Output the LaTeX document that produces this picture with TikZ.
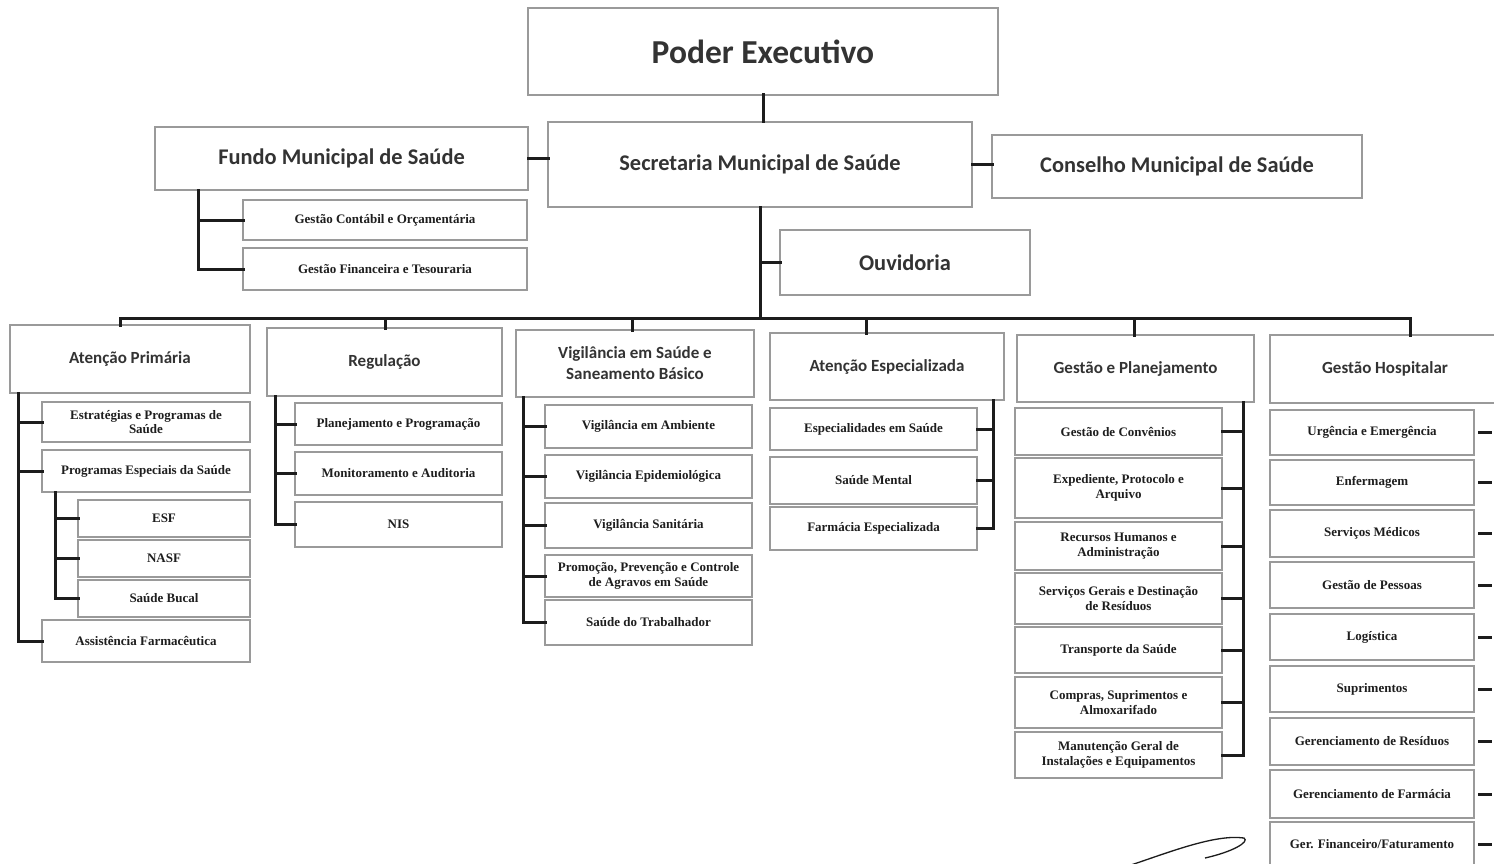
\documentclass[tikz,border=0pt]{standalone}
\usepackage{fontspec}
\newfontfamily\hdf{Carlito}
\newfontfamily\itf{Liberation Serif}
\definecolor{bord}{HTML}{9A9A9A}
\definecolor{hdtxt}{HTML}{333333}
\definecolor{ittxt}{HTML}{1E1E1E}
\definecolor{lin}{HTML}{1C1C1C}
\tikzset{
  box/.style={draw=bord, line width=1.6pt, fill=white, inner sep=0pt, outer sep=0pt, align=center},
  top/.style={box, font=\hdf\bfseries\fontsize{33.5}{38}\selectfont, text=hdtxt},
  lvone/.style={box, font=\hdf\bfseries\fontsize{22.4}{26}\selectfont, text=hdtxt},
  lvtwo/.style={box, font=\hdf\bfseries\fontsize{17}{21}\selectfont, text=hdtxt},
  itm/.style={box, font=\itf\bfseries\fontsize{13}{14.5}\selectfont, text=ittxt},
  conn/.style={draw=lin, line width=3pt, line cap=rect}
}
\newcommand\mybox[7]{%
  \pgfmathsetmacro\bw{#5-#3}\pgfmathsetmacro\bh{#6-#4}%
  \pgfmathsetmacro\cx{(#3+#5)/2}\pgfmathsetmacro\cy{(#4+#6)/2}%
  \node[#1, minimum width=\bw pt, minimum height=\bh pt] (#2) at (\cx,\cy) {#7};}
\begin{document}
\begin{tikzpicture}[x=1pt,y=-1pt]
\useasboundingbox[fill=white] (0,0) rectangle (1494,864);
% top levels
\mybox{top}{pe}{528}{8}{998}{95}{Poder Executivo}
\mybox{lvone}{fundo}{155}{127}{528}{190}{Fundo Municipal de Saúde}
\mybox{lvone}{sec}{548}{122}{972}{207}{Secretaria Municipal de Saúde}
\mybox{lvone}{cons}{992}{135}{1362}{198}{Conselho Municipal de Saúde}
\mybox{itm}{gcont}{243}{200}{527}{240}{Gestão Contábil e Orçamentária}
\mybox{itm}{gfin}{243}{248}{527}{290}{Gestão Financeira e Tesouraria}
\mybox{lvone}{ouv}{780}{230}{1030}{295}{Ouvidoria}
% level 2 heads
\mybox{lvtwo}{ap}{10}{325}{250}{393}{Atenção Primária}
\mybox{lvtwo}{reg}{267}{328}{502}{396}{Regulação}
\mybox{lvtwo}{vig}{516}{330}{754}{397}{Vigilância em Saúde e\\Saneamento Básico}
\mybox{lvtwo}{ae}{770}{333}{1004}{400}{Atenção Especializada}
\mybox{lvtwo}{gp}{1017}{335}{1254}{402}{Gestão e Planejamento}
\mybox{lvtwo}{gh}{1270}{335}{1500}{403}{Gestão Hospitalar}
% Atenção Primária items
\mybox{itm}{ap1}{42}{402}{250}{442}{Estratégias e Programas de\\Saúde}
\mybox{itm}{ap2}{42}{450}{250}{492}{Programas Especiais da Saúde}
\mybox{itm}{ap3}{78}{500}{250}{537}{ESF}
\mybox{itm}{ap4}{78}{540}{250}{577}{NASF}
\mybox{itm}{ap5}{78}{580}{250}{617}{Saúde Bucal}
\mybox{itm}{ap6}{42}{620}{250}{662}{Assistência Farmacêutica}
% Regulação items
\mybox{itm}{rg1}{295}{403}{502}{445}{Planejamento e Programação}
\mybox{itm}{rg2}{295}{452}{502}{495}{Monitoramento e Auditoria}
\mybox{itm}{rg3}{295}{502}{502}{547}{NIS}
% Vigilância items
\mybox{itm}{vg1}{545}{405}{752}{448}{Vigilância em Ambiente}
\mybox{itm}{vg2}{545}{455}{752}{498}{Vigilância Epidemiológica}
\mybox{itm}{vg3}{545}{503}{752}{548}{Vigilância Sanitária}
\mybox{itm}{vg4}{545}{555}{752}{597}{Promoção, Prevenção e Controle\\de Agravos em Saúde}
\mybox{itm}{vg5}{545}{600}{752}{645}{Saúde do Trabalhador}
% Atenção Especializada items
\mybox{itm}{ae1}{770}{408}{977}{450}{Especialidades em Saúde}
\mybox{itm}{ae2}{770}{457}{977}{504}{Saúde Mental}
\mybox{itm}{ae3}{770}{507}{977}{550}{Farmácia Especializada}
% Gestão e Planejamento items
\mybox{itm}{gp1}{1015}{408}{1222}{455}{Gestão de Convênios}
\mybox{itm}{gp2}{1015}{458}{1222}{518}{Expediente, Protocolo e\\Arquivo}
\mybox{itm}{gp3}{1015}{522}{1222}{570}{Recursos Humanos e\\Administração}
\mybox{itm}{gp4}{1015}{573}{1222}{624}{Serviços Gerais e Destinação\\de Resíduos}
\mybox{itm}{gp5}{1015}{627}{1222}{673}{Transporte da Saúde}
\mybox{itm}{gp6}{1015}{677}{1222}{728}{Compras, Suprimentos e\\Almoxarifado}
\mybox{itm}{gp7}{1015}{732}{1222}{778}{Manutenção Geral de\\Instalações e Equipamentos}
% Gestão Hospitalar items
\mybox{itm}{gh1}{1270}{410}{1474}{455}{Urgência e Emergência}
\mybox{itm}{gh2}{1270}{460}{1474}{505}{Enfermagem}
\mybox{itm}{gh3}{1270}{510}{1474}{557}{Serviços Médicos}
\mybox{itm}{gh4}{1270}{562}{1474}{608}{Gestão de Pessoas}
\mybox{itm}{gh5}{1270}{614}{1474}{660}{Logística}
\mybox{itm}{gh6}{1270}{666}{1474}{712}{Suprimentos}
\mybox{itm}{gh7}{1270}{718}{1474}{765}{Gerenciamento de Resíduos}
\mybox{itm}{gh8}{1270}{770}{1474}{818}{Gerenciamento de Farmácia}
\mybox{itm}{gh9}{1270}{822}{1474}{866}{Ger. Financeiro/Faturamento}
% coordinates
\coordinate (busL) at (120,318);
\coordinate (busR) at (1410,318);
\coordinate (d2) at (385,318);
\coordinate (d3) at (632,318);
\coordinate (d4) at (866,318);
\coordinate (d5) at (1134,318);
\coordinate (fv) at (198,190);
\coordinate (apv) at (18,393);
\coordinate (apv2) at (55,492);
\coordinate (rgv) at (275,396);
\coordinate (vgv) at (523,397);
\coordinate (aev) at (993,400);
\coordinate (gpv) at (1243,402);
% connectors top
\draw[conn] (pe.south) -- (pe.south |- sec.north);
\draw[conn] (fundo.east) -- (fundo.east -| sec.west);
\draw[conn] (sec.east) -- (sec.east -| cons.west);
\draw[conn] (sec.south) -- (sec.south |- busL);
\draw[conn] (ouv.west) -- (ouv.west -| sec.south);
\draw[conn] (fv) |- (gfin.west);
\draw[conn] (gcont.west) -- (gcont.west -| fv);
% bus
\draw[conn] (busL |- ap.north) -- (busL) -- (busR) -- (busR |- gh.north);
\draw[conn] (d2) -- (d2 |- reg.north);
\draw[conn] (d3) -- (d3 |- vig.north);
\draw[conn] (d4) -- (d4 |- ae.north);
\draw[conn] (d5) -- (d5 |- gp.north);
% Atenção Primária
\draw[conn] (apv) |- (ap6.west);
\draw[conn] (ap1.west) -- (ap1.west -| apv);
\draw[conn] (ap2.west) -- (ap2.west -| apv);
\draw[conn] (apv2) |- (ap5.west);
\draw[conn] (ap3.west) -- (ap3.west -| apv2);
\draw[conn] (ap4.west) -- (ap4.west -| apv2);
% Regulação
\draw[conn] (rgv) |- (rg3.west);
\draw[conn] (rg1.west) -- (rg1.west -| rgv);
\draw[conn] (rg2.west) -- (rg2.west -| rgv);
% Vigilância
\draw[conn] (vgv) |- (vg5.west);
\foreach \n in {vg1,vg2,vg3,vg4}{\draw[conn] (\n.west) -- (\n.west -| vgv);}
% Atenção Especializada
\draw[conn] (aev) |- (ae3.east);
\foreach \n in {ae1,ae2}{\draw[conn] (\n.east) -- (\n.east -| aev);}
% Gestão e Planejamento
\draw[conn] (gpv) |- (gp7.east);
\foreach \n in {gp1,gp2,gp3,gp4,gp5,gp6}{\draw[conn] (\n.east) -- (\n.east -| gpv);}
% Gestão Hospitalar stubs
\foreach \n in {gh1,gh2,gh3,gh4,gh5,gh6,gh7,gh8,gh9}{\draw[conn] ([xshift=5pt]\n.east) -- ++(11,0);}
% signature
\draw[line width=1.3pt, lin] (1128,866) .. controls (1170,852) and (1215,834) .. (1244,838)
  .. controls (1250,842) and (1232,852) .. (1205,858);
\end{tikzpicture}
\end{document}
